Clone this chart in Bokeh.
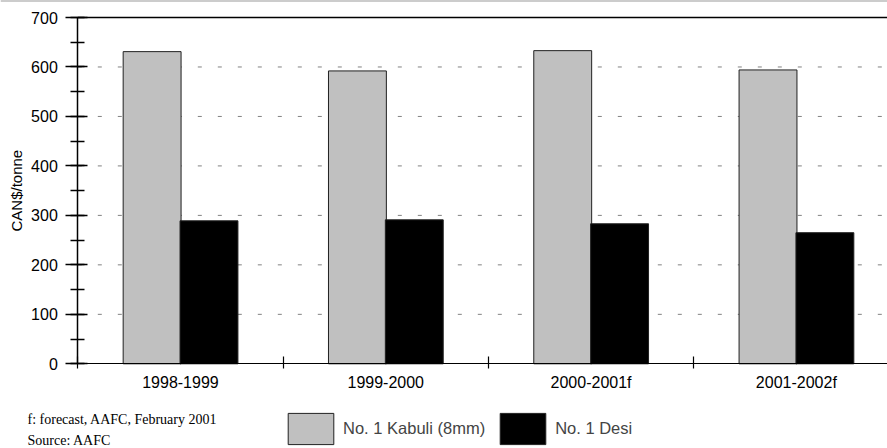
import numpy as np
from bokeh.plotting import figure
from bokeh.models import (Range1d, FixedTicker, Legend, LegendItem, Label,
                          ColumnDataSource, LinearAxis, Span)
from bokeh.embed import file_html
from bokeh.resources import INLINE

categories = ["1998-1999", "1999-2000", "2000-2001f", "2001-2002f"]
kabuli = [631, 592, 633, 594]
desi = [289, 291, 283, 265]
y_ticks = [0, 100, 200, 300, 400, 500, 600, 700]
series_names = ["No. 1 Kabuli (8mm)", "No. 1 Desi"]
y_title = "CAN$/tonne"
footnotes = ["f: forecast, AAFC, February 2001", "Source: AAFC"]

KAB_COLOR = "#c0c0c0"
DESI_COLOR = "black"
EDGE = "#202020"
FONT = "Liberation Sans"

# canvas / frame geometry (pixels)
W, H = 887, 448
AX_L, AX_TOP, AX_BOT, CAT_W = 77.3, 17.0, 363.3, 205.3
YMAX = y_ticks[-1]
ppu = (AX_BOT - AX_TOP) / YMAX
x_lo, x_hi = -AX_L / CAT_W, (W - AX_L) / CAT_W
y_lo, y_hi = -(H - AX_BOT) / ppu, YMAX + AX_TOP / ppu
n = len(categories)

centers = np.arange(n) + 0.5
src = ColumnDataSource(dict(xk=centers - 0.138, xd=centers + 0.139,
                            kabuli=kabuli, desi=desi))

p = figure(width=W, height=H, output_backend="svg", toolbar_location=None,
           x_range=Range1d(x_lo, x_hi), y_range=Range1d(y_lo, y_hi),
           min_border=0, x_axis_type=None, y_axis_type=None)
p.outline_line_color = None
p.xgrid.visible = False
p.ygrid.visible = False

# thin grey rule at the very top of the picture
p.add_layout(Span(location=y_hi, dimension="width", line_color="#9a9a9a", line_width=2))

# dashed horizontal grid lines (only over the plotting area)
grid_vals = y_ticks[1:-1]
p.segment(x0=[0] * len(grid_vals), x1=[n] * len(grid_vals), y0=grid_vals, y1=grid_vals,
          line_color="#808080", line_dash="4 16", line_width=1)

rk = p.vbar(x="xk", top="kabuli", width=0.282, source=src,
            fill_color=KAB_COLOR, line_color=EDGE, line_width=1)
rd = p.vbar(x="xd", top="desi", width=0.282, source=src,
            fill_color=DESI_COLOR, line_color=EDGE, line_width=1)

# top border line at 700
p.segment(x0=[0], x1=[n], y0=[YMAX], y1=[YMAX], line_color="black", line_width=1.5)

# y axis
yax = LinearAxis(ticker=FixedTicker(ticks=y_ticks,
                                    minor_ticks=list(range(0, YMAX + 1, 50))),
                 fixed_location=0, bounds=(0, YMAX))
yax.axis_line_color = "black"
yax.axis_line_width = 1.5
yax.major_tick_in = 10
yax.major_tick_out = 12
yax.major_tick_line_width = 1.5
yax.minor_tick_in = 7
yax.minor_tick_out = 7
yax.minor_tick_line_width = 1.5
yax.major_label_standoff = 8
yax.major_label_text_font = FONT
yax.major_label_text_font_size = "16px"
yax.major_label_text_color = "black"
p.add_layout(yax, "left")

# x axis: labels at centres, boundary ticks as minor ticks
xax = LinearAxis(ticker=FixedTicker(ticks=list(centers),
                                    minor_ticks=list(range(0, n + 1))),
                 fixed_location=0, bounds=(0, x_hi))
xax.major_label_overrides = {float(c): lab for c, lab in zip(centers, categories)}
xax.axis_line_color = "black"
xax.axis_line_width = 1
xax.major_tick_in = 0
xax.major_tick_out = 0
xax.minor_tick_in = 7
xax.minor_tick_out = 5
xax.minor_tick_line_width = 1.2
xax.major_label_standoff = 5
xax.major_label_text_font = FONT
xax.major_label_text_font_size = "16px"
xax.major_label_text_color = "black"
p.add_layout(xax, "below")

# y axis title
p.add_layout(Label(x=16, y=H - (AX_TOP + AX_BOT) / 2, x_units="screen", y_units="screen",
                   text=y_title, angle=np.pi / 2, text_align="center",
                   text_baseline="middle", text_font=FONT, text_font_size="15px",
                   text_color="black"))

# legend (area glyph boxes are drawn at 80% of the glyph cell)
legend = Legend(items=[LegendItem(label=series_names[0], renderers=[rk]),
                       LegendItem(label=series_names[1], renderers=[rd])],
                orientation="horizontal", location=(282, 0),
                glyph_width=57, glyph_height=39, label_standoff=4, spacing=9,
                padding=0, margin=0, border_line_color=None,
                background_fill_alpha=0, label_text_font=FONT,
                label_text_font_size="16.5px", label_height=39)
p.add_layout(legend, "center")

for i, t in enumerate(footnotes):
    p.add_layout(Label(x=27, y=29 - 21 * i, x_units="screen", y_units="screen",
                       text=t, text_font="Liberation Serif", text_font_size="14px",
                       text_baseline="middle", text_color="black"))

open("out.html", "w").write(file_html(p, INLINE))
